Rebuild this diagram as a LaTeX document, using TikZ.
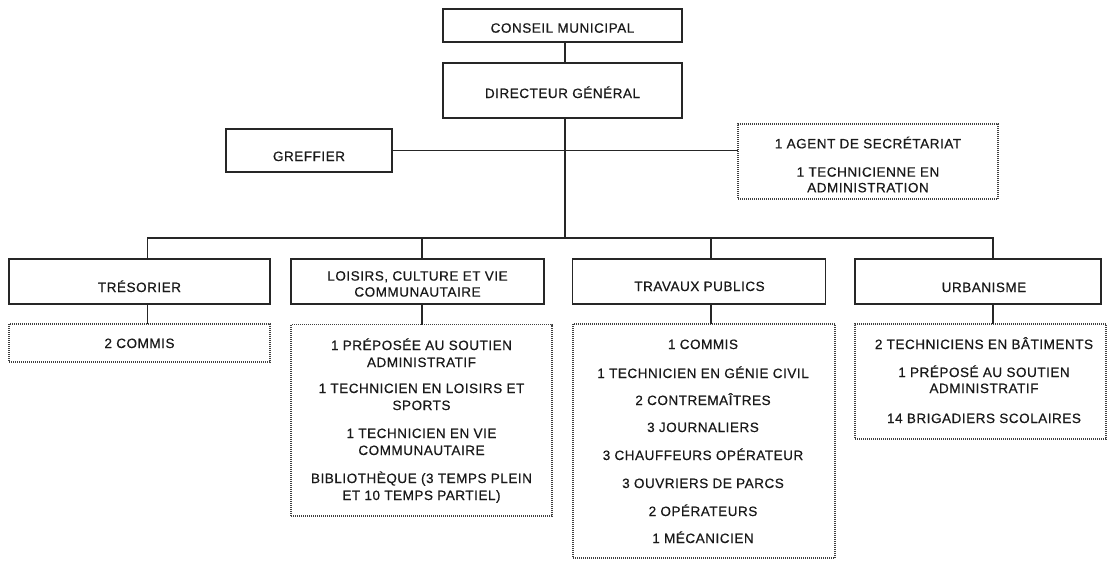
\documentclass[tikz,border=0pt]{standalone}
\usepackage{fontspec}
\setmainfont{Liberation Sans}
\newfontfamily\orgfont[LetterSpace=4,FakeBold=0.5]{Liberation Sans}
\begin{document}
\begin{tikzpicture}[x=1pt,y=-1pt,
  solidbox/.style={draw=black!85, line width=1.1pt, inner sep=0pt, outer sep=0pt},
  dotbox/.style={draw=black!75, line width=1.1pt, dash pattern=on 1pt off 1pt, inner sep=0pt, outer sep=0pt},
  conn/.style={draw=black!85, line width=1.1pt},
  lbl/.style={anchor=base, inner sep=0pt, text=black!90, font=\orgfont\fontsize{13.5}{17}\selectfont}]
\useasboundingbox[fill=white] (0,0) rectangle (1109,563);

% boxes
\node[solidbox, minimum width=239pt, minimum height=33pt] (cm) at (562.5,25.5) {};
\node[solidbox, minimum width=239pt, minimum height=55pt] (dg) at (562.5,90.5) {};
\node[solidbox, minimum width=166pt, minimum height=43pt] (gr) at (309,150.5) {};
\node[dotbox, minimum width=260pt, minimum height=75pt] (sec) at (868,161.5) {};
\node[solidbox, minimum width=261pt, minimum height=45pt] (tres) at (139.5,281.5) {};
\node[solidbox, minimum width=253pt, minimum height=45pt] (lois) at (417.5,281.5) {};
\node[solidbox, minimum width=253pt, minimum height=45pt] (trav) at (699.25,281.5) {};
\node[solidbox, minimum width=246pt, minimum height=45pt] (urb) at (978,281.5) {};
\node[dotbox, minimum width=261pt, minimum height=38pt] (comm) at (139.5,343) {};
\node[dotbox, minimum width=261pt, minimum height=191.5pt] (loisd) at (421.5,420.25) {};
\node[dotbox, minimum width=262pt, minimum height=234pt] (travd) at (704,441) {};
\node[dotbox, minimum width=251pt, minimum height=115pt] (urbd) at (980.5,381.5) {};

% connector points
\coordinate (trunk) at (565,238);
\coordinate (b1) at (147.7,238);
\coordinate (b2) at (422,238);
\coordinate (b3) at (711,238);
\coordinate (b4) at (993,238);

\draw[conn] (cm.south -| trunk) -- (dg.north -| trunk);
\draw[conn] (dg.south -| trunk) -- (trunk);
\draw[conn] (gr.east) -- (gr.east -| sec.west);
\draw[conn, line cap=rect] (b1) -- (b4);
\draw[conn] (b1) -- (b1 |- tres.north);
\draw[conn] (b2) -- (b2 |- lois.north);
\draw[conn] (b3) -- (b3 |- trav.north);
\draw[conn] (b4) -- (b4 |- urb.north);
\draw[conn] (b1 |- tres.south) -- (b1 |- comm.north);
\draw[conn] (b2 |- lois.south) -- (b2 |- loisd.north);
\draw[conn] (b3 |- trav.south) -- (b3 |- travd.north);
\draw[conn] (b4 |- urb.south) -- (b4 |- urbd.north);

% labels
\node[lbl] (t1) at (562.5,32.7) {CONSEIL MUNICIPAL};
\node[lbl] (t2) at (562.5,98) {DIRECTEUR GÉNÉRAL};
\node[lbl] (t3) at (309,161) {GREFFIER};
\node[lbl] (t4) at (868,148.3) {1 AGENT DE SECRÉTARIAT};
\node[lbl] (t5) at (868,176.7) {1 TECHNICIENNE EN};
\node[lbl] (t6) at (868,192.3) {ADMINISTRATION};
\node[lbl] (t7) at (139.5,292) {TRÉSORIER};
\node[lbl] (t8) at (417.5,280.6) {LOISIRS, CULTURE ET VIE};
\node[lbl] (t9) at (417.5,296.6) {COMMUNAUTAIRE};
\node[lbl] (t10) at (699.5,291) {TRAVAUX PUBLICS};
\node[lbl] (t11) at (984,292) {URBANISME};
\node[lbl] (t12) at (139.5,348) {2 COMMIS};

\node[lbl] (l1) at (421.5,350) {1 PRÉPOSÉE AU SOUTIEN};
\node[lbl] (l2) at (421.5,367) {ADMINISTRATIF};
\node[lbl] (l3) at (421.5,393) {1 TECHNICIEN EN LOISIRS ET};
\node[lbl] (l4) at (421.5,410) {SPORTS};
\node[lbl] (l5) at (421.5,438) {1 TECHNICIEN EN VIE};
\node[lbl] (l6) at (421.5,455) {COMMUNAUTAIRE};
\node[lbl] (l7) at (421.5,483) {BIBLIOTHÈQUE (3 TEMPS PLEIN};
\node[lbl] (l8) at (421.5,500) {ET 10 TEMPS PARTIEL)};

\node[lbl] (p1) at (703,349) {1 COMMIS};
\node[lbl] (p2) at (703,378) {1 TECHNICIEN EN GÉNIE CIVIL};
\node[lbl] (p3) at (703,405) {2 CONTREMAÎTRES};
\node[lbl] (p4) at (703,432) {3 JOURNALIERS};
\node[lbl] (p5) at (703,460) {3 CHAUFFEURS OPÉRATEUR};
\node[lbl] (p6) at (703,488) {3 OUVRIERS DE PARCS};
\node[lbl] (p7) at (703,516) {2 OPÉRATEURS};
\node[lbl] (p8) at (703,543) {1 MÉCANICIEN};

\node[lbl] (u1) at (984,349) {2 TECHNICIENS EN BÂTIMENTS};
\node[lbl] (u2) at (984,377) {1 PRÉPOSÉ AU SOUTIEN};
\node[lbl] (u3) at (984,393) {ADMINISTRATIF};
\node[lbl] (u4) at (984,423) {14 BRIGADIERS SCOLAIRES};
\end{tikzpicture}
\end{document}
